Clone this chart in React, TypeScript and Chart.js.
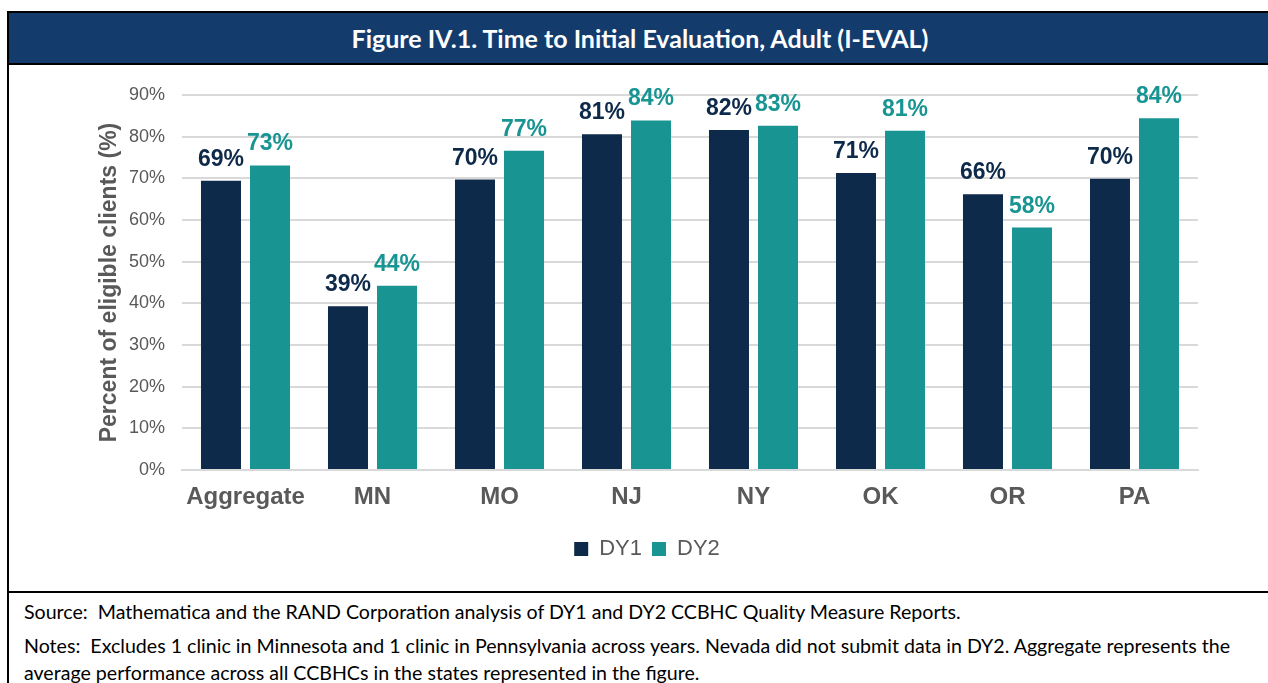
import React, { useEffect, useRef } from "react";
import { Chart, registerables } from "chart.js";

Chart.register(...registerables);

const categories = ["Aggregate", "MN", "MO", "NJ", "NY", "OK", "OR", "PA"];
const dy1Values = [69.4, 39.3, 69.7, 80.6, 81.6, 71.3, 66.2, 69.9];
const dy2Values = [73.1, 44.2, 76.6, 83.9, 82.6, 81.4, 58.2, 84.4];
const seriesNames = ["DY1", "DY2"];
const yTickMax = 90;
const yTickStep = 10;

const titleText = "Figure IV.1. Time to Initial Evaluation, Adult (I-EVAL)";
const sourceText =
  "Source:\u00a0\u00a0Mathematica and the RAND Corporation analysis of DY1 and DY2 CCBHC Quality Measure Reports.";
const notesLine1 =
  "Notes:\u00a0\u00a0Excludes 1 clinic in Minnesota and 1 clinic in Pennsylvania across years. Nevada did not submit data in DY2. Aggregate represents the";
const notesLine2 = "average performance across all CCBHCs in the states represented in the figure.";

const NAVY = "#0E2A4A";
const TEAL = "#189593";
const GRAY = "#595959";
const ARIAL = '"Liberation Sans", Arial, sans-serif';

const valueLabels = {
  id: "valueLabels",
  afterDatasetsDraw(chart: any) {
    const ctx = chart.ctx;
    ctx.save();
    ctx.font = `bold 23px ${ARIAL}`;
    ctx.textAlign = "center";
    ctx.textBaseline = "alphabetic";
    const colors = [NAVY, TEAL];
    chart.data.datasets.forEach((ds: any, i: number) => {
      const meta = chart.getDatasetMeta(i);
      ctx.fillStyle = colors[i];
      meta.data.forEach((bar: any, j: number) => {
        const v = ds.data[j];
        ctx.fillText(Math.round(v) + "%", bar.x, bar.y - 15);
      });
    });
    ctx.restore();
  },
};

function BarChart() {
  const ref = useRef<HTMLCanvasElement | null>(null);
  useEffect(() => {
    if (!ref.current) return;
    const chart = new Chart(ref.current, {
      type: "bar",
      data: {
        labels: categories,
        datasets: [
          {
            label: seriesNames[0],
            data: dy1Values,
            backgroundColor: NAVY,
            categoryPercentage: 0.772,
            barPercentage: 0.816,
          },
          {
            label: seriesNames[1],
            data: dy2Values,
            backgroundColor: TEAL,
            categoryPercentage: 0.772,
            barPercentage: 0.816,
          },
        ],
      },
      options: {
        responsive: false,
        animation: false,
        layout: { padding: { left: 87, top: 30, right: 73, bottom: 21 } },
        plugins: {
          tooltip: { enabled: false },
          legend: {
            position: "bottom",
            labels: {
              boxWidth: 14,
              boxHeight: 14,
              padding: 10,
              color: GRAY,
              font: { family: ARIAL, size: 22 },
            },
          },
        },
        scales: {
          x: {
            grid: { display: false, drawTicks: false },
            border: { display: true, color: "#D9D9D9", width: 2 },
            ticks: {
              color: GRAY,
              padding: 13,
              font: { family: ARIAL, size: 24, weight: "bold" },
            },
            afterFit(scale: any) {
              scale.height = 58;
            },
          },
          y: {
            min: 0,
            max: yTickMax,
            grid: { color: "#D9D9D9", lineWidth: 2, drawTicks: false },
            border: { display: false },
            ticks: {
              stepSize: yTickStep,
              color: GRAY,
              padding: 17,
              font: { family: ARIAL, size: 18 },
              callback: (v: any) => v + "%",
            },
            title: {
              display: true,
              text: "Percent of eligible clients (%)",
              color: GRAY,
              padding: 0,
              font: { family: ARIAL, size: 23, weight: "bold" },
            },
            afterFit(scale: any) {
              scale.width = 86;
            },
          },
        },
      },
      plugins: [valueLabels],
    } as any);
    return () => chart.destroy();
  }, []);
  return <canvas ref={ref} width={1262} height={526} style={{ display: "block" }} />;
}

export default function App() {
  useEffect(() => {
    document.body.style.overflow = "hidden";
  }, []);
  return (
    <div
      style={{
        position: "fixed",
        left: 7,
        top: 11,
        width: 1262,
        height: 700,
        borderLeft: "2px solid #000",
        borderTop: "2px solid #000",
        background: "#fff",
      }}
    >
      <div
        style={{
          height: 50,
          background: "#133C6D",
          borderBottom: "2px solid #000",
          display: "flex",
          alignItems: "center",
          justifyContent: "center",
          color: "#fff",
          fontFamily: "Lato, 'Open Sans', sans-serif",
          fontWeight: 700,
          fontSize: 25,
          whiteSpace: "nowrap",
        }}
      >
        {titleText}
      </div>
      <div style={{ height: 526, borderBottom: "2px solid #000" }}>
        <BarChart />
      </div>
      <div
        style={{
          fontFamily: "Lato, 'Open Sans', sans-serif",
          fontSize: 19.6,
          color: "#000",
          paddingLeft: 15,
          whiteSpace: "nowrap",
        }}
      >
        <div style={{ lineHeight: "27px", marginTop: 5 }}>{sourceText}</div>
        <div style={{ lineHeight: "27px", marginTop: 7 }}>
          {notesLine1}
          <br />
          {notesLine2}
        </div>
      </div>
    </div>
  );
}
